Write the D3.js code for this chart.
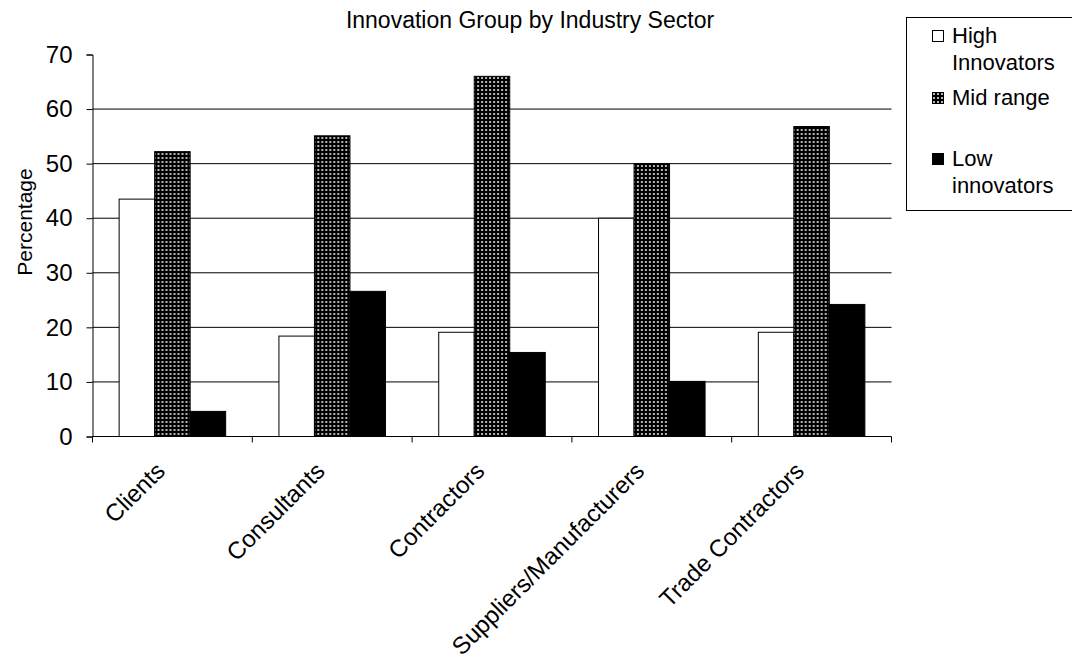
<!DOCTYPE html>
<html>
<head>
<meta charset="utf-8">
<script src="https://cdn.jsdelivr.net/npm/d3@7/dist/d3.min.js"></script>
<style>
  html, body { margin: 0; padding: 0; background: #fff; }
  svg { display: block; font-family: "Liberation Sans", Arial, sans-serif; }
</style>
</head>
<body>
<svg id="chart" width="1072" height="661"></svg>
<script>
// Sectors and the share of firms (%) in each innovation group
const categories = ["Clients", "Consultants", "Contractors", "Suppliers/Manufacturers", "Trade Contractors"];
const seriesNames = ["High Innovators", "Mid range", "Low innovators"];
const highInnovators = [43.5, 18.4, 19.1, 40.0, 19.1];
const midRange = [52.2, 55.1, 66.0, 50.0, 56.8];
const lowInnovators = [4.6, 26.6, 15.4, 10.1, 24.2];
const yTicks = [0, 10, 20, 30, 40, 50, 60, 70];

const seriesValues = [highInnovators, midRange, lowInnovators];

const svg = d3.select("#chart");

// Dotted fill for the middle series
const defs = svg.append("defs");
const pat = defs.append("pattern")
  .attr("id", "dots").attr("patternUnits", "userSpaceOnUse")
  .attr("width", 4).attr("height", 4);
pat.append("rect").attr("width", 4).attr("height", 4).attr("fill", "#000");
pat.append("rect").attr("x", 1).attr("y", 1).attr("width", 2).attr("height", 2).attr("fill", "#b4b4b4");

const fills = ["#fff", "url(#dots)", "#000"];

const plot = { left: 92.5, right: 891.5, top: 54.5, bottom: 436.5 };

const x0 = d3.scaleBand().domain(categories).range([plot.left, plot.right]).paddingInner(0).paddingOuter(0);
const x1 = d3.scaleBand().domain(seriesNames).range([0, x0.bandwidth()]).paddingInner(0).paddingOuter(0.75);
const y = d3.scaleLinear().domain([0, 70]).range([plot.bottom, plot.top]);

// Title
svg.append("text")
  .attr("x", 530).attr("y", 28)
  .attr("text-anchor", "middle")
  .attr("font-size", 23)
  .attr("fill", "#000")
  .text("Innovation Group by Industry Sector");

// Horizontal gridlines
svg.append("g").selectAll("line")
  .data(yTicks.filter(t => t > 0 && t < 70))
  .join("line")
  .attr("x1", plot.left).attr("x2", plot.right)
  .attr("y1", d => y(d)).attr("y2", d => y(d))
  .attr("stroke", "#000").attr("stroke-width", 1);

// Bars
const groups = svg.append("g").selectAll("g")
  .data(categories)
  .join("g")
  .attr("transform", d => `translate(${x0(d)},0)`);

groups.selectAll("rect")
  .data((c, i) => seriesNames.map((s, k) => ({ s, k, v: seriesValues[k][i] })))
  .join("rect")
  .attr("x", d => x1(d.s))
  .attr("y", d => y(d.v))
  .attr("width", x1.bandwidth())
  .attr("height", d => y(0) - y(d.v))
  .attr("fill", d => fills[d.k])
  .attr("stroke", "#000")
  .attr("stroke-width", 1);

// Y axis
const yAxis = d3.axisLeft(y).tickValues(yTicks).tickSize(6).tickPadding(14).tickFormat(d3.format("d"));
const gy = svg.append("g").attr("transform", `translate(${plot.left},0)`).call(yAxis);
gy.select(".domain").attr("stroke", "#000");
gy.selectAll(".tick line").attr("stroke", "#000");
gy.selectAll(".tick text")
  .attr("font-size", 24)
  .attr("font-family", "Liberation Sans, Arial, sans-serif")
  .attr("fill", "#000");

// X axis with ticks between categories
svg.append("line")
  .attr("x1", plot.left).attr("x2", plot.right)
  .attr("y1", plot.bottom).attr("y2", plot.bottom)
  .attr("stroke", "#000");
const boundaries = categories.map(c => x0(c)).concat([x0(categories[categories.length - 1]) + x0.bandwidth()]);
svg.append("g").selectAll("line")
  .data(boundaries)
  .join("line")
  .attr("x1", d => d).attr("x2", d => d)
  .attr("y1", plot.bottom).attr("y2", plot.bottom + 6)
  .attr("stroke", "#000");

// Rotated category labels
svg.append("g").selectAll("text")
  .data(categories)
  .join("text")
  .attr("transform", d => `translate(${x0(d) + x0.bandwidth() / 2 - 6},${plot.bottom + 36}) rotate(-45)`)
  .attr("text-anchor", "end")
  .attr("font-size", 24)
  .attr("fill", "#000")
  .text(d => d);

// Y axis title
svg.append("text")
  .attr("transform", `translate(32,222) rotate(-90)`)
  .attr("text-anchor", "middle")
  .attr("font-size", 21)
  .attr("fill", "#000")
  .text("Percentage");

// Legend
const legend = svg.append("g");
legend.append("rect")
  .attr("x", 906.5).attr("y", 17.5).attr("width", 200).attr("height", 193)
  .attr("fill", "#fff").attr("stroke", "#000");

const legendRows = [
  { k: 0, lines: ["High", "Innovators"], y: 43 },
  { k: 1, lines: ["Mid range"], y: 105 },
  { k: 2, lines: ["Low", "innovators"], y: 166 }
];
legendRows.forEach(r => {
  legend.append("rect")
    .attr("x", 932.5).attr("y", r.y - 12.5).attr("width", 11).attr("height", 11)
    .attr("fill", fills[r.k]).attr("stroke", "#000");
  r.lines.forEach((t, j) => {
    legend.append("text")
      .attr("x", 952).attr("y", r.y + j * 27)
      .attr("font-size", 22)
      .attr("fill", "#000")
      .text(t);
  });
});
</script>
</body>
</html>
